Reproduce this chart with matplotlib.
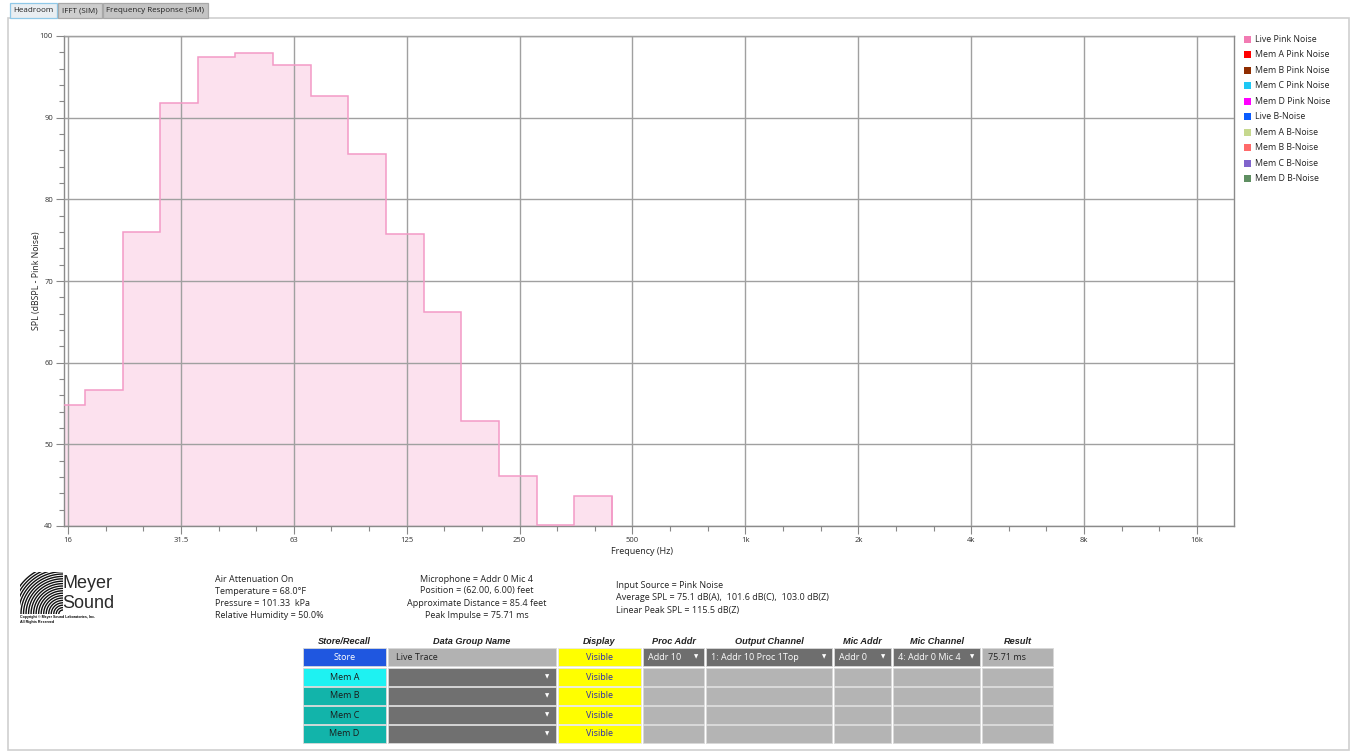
import numpy as np
import matplotlib
matplotlib.use("Agg")
import matplotlib.pyplot as plt
from matplotlib.patches import Rectangle
from matplotlib.ticker import FixedLocator, FixedFormatter, MultipleLocator

W, H = 1352, 753
plt.rcParams['font.family'] = ['Open Sans', 'DejaVu Sans']

# 1/3 octave bands and the measured level in each (dBSPL)
band_hz = ['16', '20', '25', '31.5', '40', '50', '63', '80', '100', '125',
           '160', '200', '250', '315', '400']
spl_db = [54.8, 56.6, 76.0, 91.8, 97.4, 97.9, 96.4, 92.6, 85.5, 75.7,
          66.2, 52.9, 46.1, 40.1, 43.7]

tick_labels = ['16', '31.5', '63', '125', '250', '500', '1k', '2k', '4k', '8k', '16k']

legend_labels = ['Live Pink Noise', 'Mem A Pink Noise', 'Mem B Pink Noise',
                 'Mem C Pink Noise', 'Mem D Pink Noise', 'Live B-Noise',
                 'Mem A B-Noise', 'Mem B B-Noise', 'Mem C B-Noise', 'Mem D B-Noise']
legend_colors = ['#f27bb3', '#ff0000', '#8f2d00', '#1ec8f5', '#ff00ff',
                 '#0a5cff', '#c6d88e', '#ff6a6a', '#8064cc', '#5f8f62']

tabs = ['Headroom', 'IFFT (SIM)', 'Frequency Response (SIM)']

env_lines = ['Air Attenuation On', 'Temperature = 68.0°F',
             'Pressure = 101.33  kPa', 'Relative Humidity = 50.0%']
mic_lines = ['Microphone = Addr 0 Mic 4', 'Position = (62.00, 6.00) feet',
             'Approximate Distance = 85.4 feet', 'Peak Impulse = 75.71 ms']
src_lines = ['Input Source = Pink Noise',
             'Average SPL = 75.1 dB(A),  101.6 dB(C),  103.0 dB(Z)',
             'Linear Peak SPL = 115.5 dB(Z)']

col_headers = ['Store/Recall', 'Data Group Name', 'Display', 'Proc Addr',
               'Output Channel', 'Mic Addr', 'Mic Channel', 'Result']
row_buttons = ['Store', 'Mem A', 'Mem B', 'Mem C', 'Mem D']
live_row = ['Live Trace', 'Visible', 'Addr 10', '1: Addr 10 Proc 1Top',
            'Addr 0', '4: Addr 0 Mic 4', '75.71 ms']


def fx(x):
    return x / W


def fy(y):
    return 1 - y / H


fig = plt.figure(figsize=(W / 100, H / 100), dpi=100)
fig.patch.set_facecolor('white')


def box(x0, y0, x1, y1, fc, ec='none', lw=0.8, z=1):
    fig.patches.append(Rectangle((fx(x0), fy(y1)), (x1 - x0) / W, (y1 - y0) / H,
                                 transform=fig.transFigure, facecolor=fc,
                                 edgecolor=ec, lw=lw, zorder=z))


def txt(x, y, s, **kw):
    kw.setdefault('va', 'center')
    kw.setdefault('fontsize', 6.5)
    kw.setdefault('color', '#222222')
    fig.text(fx(x), fy(y), s, **kw)


# window frame and tabs
box(8, 18, 1349, 750, 'none', ec='#cfcfcf', lw=1.2)
tab_x = [10, 58, 103, 209]
tab_fc = ['#e9eef2', '#cdcdcd', '#c4c4c4']
tab_ec = ['#8fc8e8', '#a8a8a8', '#a8a8a8']
for i, name in enumerate(tabs):
    box(tab_x[i], 3, tab_x[i + 1] - 1, 18, tab_fc[i], ec=tab_ec[i], lw=0.9)
    txt((tab_x[i] + tab_x[i + 1] - 1) / 2, 10.5, name, ha='center', fontsize=5.8)

# main chart
ax = fig.add_axes([fx(64), fy(526), (1234 - 64) / W, (526 - 36) / H])
px_oct = (1197 - 68) / 10.0
n = len(spl_db)
edges = 16 * 2 ** ((np.arange(n + 1) - 0.55) / 3)
ax.stairs(spl_db, edges, baseline=40, fill=True, facecolor='#fce1ee',
          edgecolor='none', zorder=1)
ax.stairs(spl_db, edges, baseline=40, fill=False, color='#f39ac6', lw=1.1, zorder=3)
ax.vlines([edges[-1]], 40, spl_db[-1], color='#f39ac6', lw=1.1, zorder=3)

ax.set_xscale('log', base=2)
ax.set_xlim(16 * 2 ** ((64 - 68) / px_oct), 16 * 2 ** ((1234 - 68) / px_oct))
ax.set_ylim(40, 100)

major_hz = 16 * 2.0 ** np.arange(len(tick_labels))
minor_hz = [16 * 2 ** (k / 3) for k in range(31) if k % 3]
ax.xaxis.set_major_locator(FixedLocator(major_hz))
ax.xaxis.set_major_formatter(FixedFormatter(tick_labels))
ax.xaxis.set_minor_locator(FixedLocator(minor_hz))
ax.xaxis.set_minor_formatter(FixedFormatter([''] * len(minor_hz)))
ax.yaxis.set_major_locator(MultipleLocator(10))
ax.yaxis.set_minor_locator(MultipleLocator(2))

ax.tick_params(which='major', length=6, width=0.8, color='#888888',
               labelsize=5.5, labelcolor='#333333', pad=2)
ax.tick_params(which='minor', length=3.5, width=0.8, color='#888888')
ax.grid(True, which='major', color='#a0a0a0', lw=1.0, zorder=2)
ax.set_axisbelow(False)
for sp in ax.spines.values():
    sp.set_color('#8a8a8a')
    sp.set_linewidth(1.0)

txt(37, 281, 'SPL (dBSPL - Pink Noise)', rotation=90, ha='center', fontsize=6.3)
txt(642, 552, 'Frequency (Hz)', ha='center', fontsize=6.5)

# legend
leg_y0, leg_dy = 39.5, 15.45
for i, (lab, c) in enumerate(zip(legend_labels, legend_colors)):
    y = leg_y0 + i * leg_dy
    box(1244, y - 3.5, 1251, y + 3.5, c)
    txt(1255, y, lab, ha='left', fontsize=6.3)

# logo
lax = fig.add_axes([fx(18), fy(626), 96 / W, 56 / H])
lax.set_xlim(18, 114)
lax.set_ylim(626, 570)
lax.axis('off')
clip = Rectangle((20, 572), 43, 42, transform=lax.transData)
for r in np.arange(4, 52, 2.4):
    t = np.linspace(np.pi / 2, np.pi, 80)
    ln, = lax.plot(63 + r * np.cos(t) * 1.05, 614 - r * np.sin(t), color='#111111', lw=1.0)
    ln.set_clip_path(clip)
lax.text(62, 583, 'Meyer', fontsize=13, family='Liberation Sans', color='#2a2a2a',
         va='center', ha='left')
lax.text(62, 603, 'Sound', fontsize=13, family='Liberation Sans', color='#2a2a2a',
         va='center', ha='left')
lax.text(20, 617, 'Copyright © Meyer Sound Laboratories, Inc.', fontsize=2.6,
         fontweight='bold', va='center', ha='left', family='Liberation Sans')
lax.text(20, 622.5, 'All Rights Reserved', fontsize=2.6, fontweight='bold',
         va='center', ha='left', family='Liberation Sans')

# measurement info
for i, s in enumerate(env_lines):
    txt(215, 579 + i * 12, s, ha='left')
for i, s in enumerate(mic_lines):
    txt(477, 579 + i * 12, s, ha='center')
for i, s in enumerate(src_lines):
    txt(616, 586 + i * 12, s, ha='left')

# store / recall table
col_x = [(303, 386), (388, 556), (558, 641), (643, 704), (706, 832),
         (834, 891), (893, 980), (982, 1053)]
row_y = [(648, 666), (668, 686), (687, 705), (706, 724), (725, 743)]
btn_fc = ['#1f57e0', '#1ef2f2', '#12b4aa', '#12b4aa', '#12b4aa']
hdr_font = dict(family='Liberation Sans', fontweight='bold', style='italic', fontsize=6.6)
for (x0, x1), h in zip(col_x, col_headers):
    txt((x0 + x1) / 2, 641, h, ha='center', **hdr_font)


def arrow(x, y):
    txt(x, y, '▼', ha='center', fontsize=4, color='white', family='DejaVu Sans')


for r, ((y0, y1), b) in enumerate(zip(row_y, row_buttons)):
    yc = (y0 + y1) / 2
    (bx0, bx1) = col_x[0]
    box(bx0, y0, bx1, y1, btn_fc[r], ec='#d8d8d8', lw=0.6)
    txt((bx0 + bx1) / 2, yc, b, ha='center', color='white' if r == 0 else '#1a1a1a')
    # data group name
    gx0, gx1 = col_x[1]
    if r == 0:
        box(gx0, y0, gx1, y1, '#b2b2b2', ec='#d8d8d8', lw=0.6)
        txt(gx0 + 8, yc, live_row[0], ha='left')
    else:
        box(gx0, y0, gx1, y1, '#707070', ec='#d8d8d8', lw=0.6)
        arrow(gx1 - 9, yc)
    # display
    dx0, dx1 = col_x[2]
    box(dx0, y0, dx1, y1, '#ffff00', ec='#e8e8e8', lw=0.6)
    txt((dx0 + dx1) / 2, yc, live_row[1], ha='center', color='#2a2ab0')
    # remaining columns
    for c in range(3, 8):
        cx0, cx1 = col_x[c]
        if r == 0 and c < 7:
            box(cx0, y0, cx1, y1, '#6e6e6e', ec='#d8d8d8', lw=0.6)
            txt(cx0 + 5, yc, live_row[c - 1], ha='left', color='white')
            arrow(cx1 - 8, yc)
        elif r == 0:
            box(cx0, y0, cx1, y1, '#b2b2b2', ec='#d8d8d8', lw=0.6)
            txt(cx0 + 6, yc, live_row[c - 1], ha='left')
        else:
            box(cx0, y0, cx1, y1, '#b4b4b4', ec='#d8d8d8', lw=0.6)

fig.savefig('out.png', dpi=100, facecolor='white')
